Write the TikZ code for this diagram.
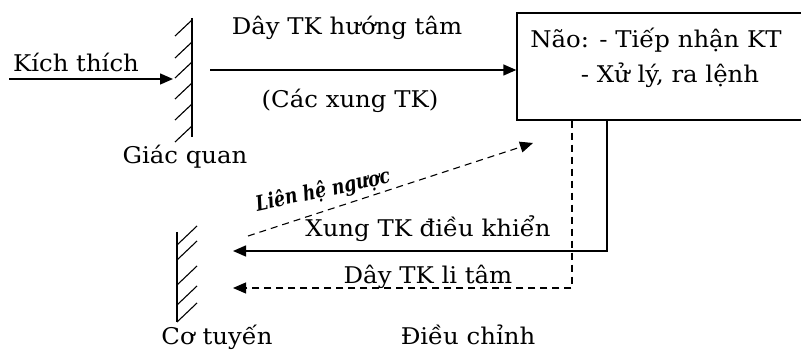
\documentclass[tikz,border=0pt]{standalone}
\usepackage{fontspec}
\setmainfont[FakeStretch=1.06]{DejaVu Serif}
\newfontfamily\lhfont[FakeStretch=0.82]{DejaVu Serif}
\usetikzlibrary{arrows.meta}
\begin{document}
\begin{tikzpicture}[x=1pt,y=-1pt,
  lbl/.style={font=\fontsize{23}{26}\selectfont, inner sep=0pt},
  solidline/.style={line width=1.4pt},
  dashline/.style={line width=1.1pt, dash pattern=on 7pt off 5pt},
  tip/.style={-{Triangle[length=13pt,width=11pt]}},
  hatch/.style={line width=1.1pt}]
\useasboundingbox (0,0) rectangle (801,352);
% brain box
\node[draw, line width=1.4pt, minimum width=290pt, minimum height=107pt, inner sep=0pt] (box) at (662,66.5) {};
\node[lbl] (boxl1) at (656,40) {Não: - Tiếp nhận KT};
\node[lbl] (boxl2) at (670,75) {- Xử lý, ra lệnh};
% receptor (Giác quan)
\coordinate (recT) at (192,18);
\coordinate (recB) at (192,137);
\draw[hatch] (recT) -- (recB);
\foreach \y in {20,42,62,83,104,126} \draw[hatch] (192,\y) -- ++(-17,16);
% stimulus
\coordinate (stimS) at (9,79);
\coordinate (stimE) at (173,79);
\draw[solidline, tip] (stimS) -- (stimE);
\node[lbl] (kich) at (76,62) {Kích thích};
\node[lbl] (giac) at (185,157) {Giác quan};
% afferent
\coordinate (affS) at (210,70);
\draw[solidline, tip] (affS) -- (affS -| box.west);
\node[lbl] (day1) at (347,28) {Dây TK hướng tâm};
\node[lbl] (cac) at (350,101) {(Các xung TK)};
% effector (Cơ tuyến)
\coordinate (effT) at (177,232);
\coordinate (effB) at (177,322);
\draw[hatch] (effT) -- (effB);
\foreach \y in {245,260,285,305,322} \draw[hatch] (177,\y) -- ++(20,-19);
% efferent solid
\coordinate (outS) at (607,120);
\coordinate (outC) at (607,251);
\coordinate (outE) at (233,251);
\draw[solidline, tip] (box.south -| outS) -- (outC) -- (outE);
% efferent dashed
\coordinate (dS) at (572,120);
\coordinate (dC) at (572,288);
\coordinate (dE) at (233,288);
\draw[dashline, tip] (box.south -| dS) -- (dC) -- (dE);
% feedback
\coordinate (fbS) at (248,236);
\coordinate (fbE) at (533,143);
\draw[dashline, tip] (fbS) -- (fbE);
\node[font=\lhfont\fontsize{21}{23}\selectfont\bfseries\itshape, inner sep=0pt, rotate=12] (lhn) at (323,191) {Liên hệ ngược};
\node[lbl] (xung) at (428,229) {Xung TK điều khiển};
\node[lbl] (daylt) at (428,277) {Dây TK li tâm};
\node[lbl, anchor=base] (co) at (217,345) {Cơ tuyến};
\node[lbl, anchor=base] (dieu) at (468,345) {Điều chỉnh};
\end{tikzpicture}
\end{document}
